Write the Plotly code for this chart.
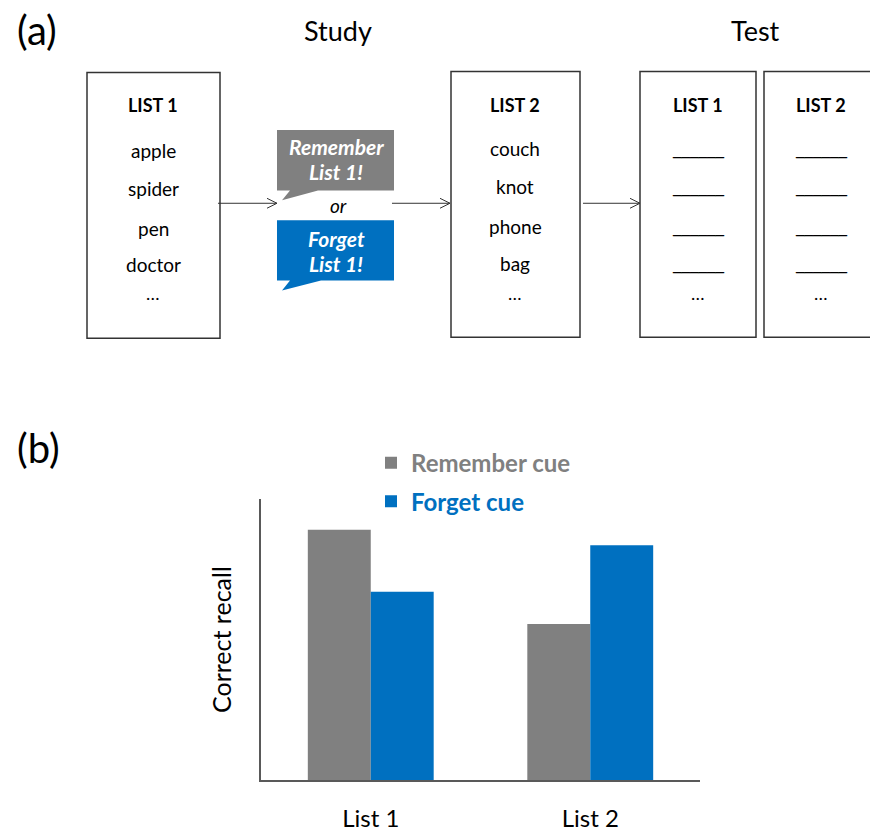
import plotly.graph_objects as go

W, H = 870, 832

# ---------------- data ----------------
categories = ["List 1", "List 2"]
remember_cue = [89.0, 55.5]
forget_cue = [67.0, 83.5]
series_names = ["Remember cue", "Forget cue"]
series_colors = ["#808080", "#0070C0"]
y_title = "Correct recall"

list1_words = ["apple", "spider", "pen", "doctor"]
list2_words = ["couch", "knot", "phone", "bag"]

FONT = "Lato"
BORDER = "#333333"


def px(x):
    return x / W


def py(y):
    return 1 - y / H


fig = go.Figure()
fig.add_trace(go.Bar(
    x=categories, y=remember_cue, name="<b>" + series_names[0] + "</b>",
    marker=dict(color=series_colors[0], line=dict(width=0)), legend="legend",
    showlegend=True,
))
fig.add_trace(go.Bar(
    x=categories, y=forget_cue, name="<b>" + series_names[1] + "</b>",
    marker=dict(color=series_colors[1], line=dict(width=0)), legend="legend2",
    showlegend=True,
))

shapes = []
annotations = []


def text(t, x, y, size, color="black", bold=False, italic=False, family=FONT):
    s = t
    if bold:
        s = "<b>" + s + "</b>"
    if italic:
        s = "<i>" + s + "</i>"
    annotations.append(dict(
        text=s, x=px(x), y=py(y), xref="paper", yref="paper",
        xanchor="center", yanchor="middle", showarrow=False,
        font=dict(family=family, size=size, color=color),
    ))


def rect(x0, y0, x1, y1):
    shapes.append(dict(type="rect", xref="paper", yref="paper",
                       x0=px(x0), x1=px(x1), y0=py(y1), y1=py(y0),
                       line=dict(color=BORDER, width=1.5), fillcolor="rgba(0,0,0,0)"))


def path(cmds, color=None, fill=None, width=1):
    d = ""
    for cmd, x, y in cmds:
        d += f"{cmd} {px(x):.5f} {py(y):.5f} "
    if fill:
        d += "Z"
    shapes.append(dict(type="path", xref="paper", yref="paper", path=d,
                       line=dict(color=color or "rgba(0,0,0,0)", width=width if color else 0),
                       fillcolor=fill or "rgba(0,0,0,0)"))


def arrow(x0, x1, y):
    path([("M", x0, y), ("L", x1, y), ("M", x1 - 10, y - 5), ("L", x1, y), ("L", x1 - 10, y + 5)],
         color=BORDER, width=1)


# panel labels and headings
text("(a)", 37, 30, 40)
text("(b)", 38, 452, 40)
text("Study", 338, 31, 27)
text("Test", 755, 31, 27)

# study boxes
rect(87, 73, 220, 341)
text("LIST 1", 153, 106, 18, bold=True)
for i, w in enumerate(list1_words):
    text(w, 153, [152, 190, 230, 267][i], 19)
text("…", 153, 295, 18)

rect(451, 72, 580, 340)
text("LIST 2", 515, 106, 18, bold=True)
for i, w in enumerate(list2_words):
    text(w, 515, [150, 188, 228, 266][i], 19)
text("…", 515, 295, 18)

# test boxes
rect(640, 72, 756, 340)
text("LIST 1", 698, 106, 18, bold=True)
rect(764, 72, 880, 340)
text("LIST 2", 821, 106, 18, bold=True)
for cx in (698, 821):
    for yy in (150, 188, 228, 266):
        text("______", cx, yy, 17, family="DejaVu Sans")
    text("…", cx, 295, 18)

# cue bubbles
path([("M", 277, 131), ("L", 394, 131), ("L", 394, 192), ("L", 318, 192),
      ("L", 282, 202), ("L", 290, 192), ("L", 277, 192)], fill=series_colors[0])
path([("M", 277, 222), ("L", 394, 222), ("L", 394, 283), ("L", 321, 283),
      ("L", 282, 293), ("L", 290, 283), ("L", 277, 283)], fill=series_colors[1])
text("Remember", 336, 148, 21, color="white", bold=True, italic=True)
text("List 1!", 336, 173, 21, color="white", bold=True, italic=True)
text("or", 338, 207, 19, italic=True)
text("Forget", 336, 241, 21, color="white", bold=True, italic=True)
text("List 1!", 336, 266, 21, color="white", bold=True, italic=True)

# arrows
arrow(218, 277, 205)
arrow(392, 450, 205)
arrow(583, 640, 205)

fig.update_layout(
    width=W, height=H,
    margin=dict(l=0, r=0, t=0, b=0),
    paper_bgcolor="white", plot_bgcolor="white",
    showlegend=True,
    barmode="group", bargap=0.4265, bargroupgap=0,
    font=dict(family=FONT, color="black"),
    xaxis=dict(domain=[px(261), px(700)], range=[-0.5, 1.5], showline=True,
               linecolor="#595959", linewidth=1.5, ticks="", showgrid=False,
               zeroline=False, tickfont=dict(family=FONT, size=24, color="black"),
               ticklabelstandoff=16),
    yaxis=dict(domain=[py(787), py(503)], range=[0, 100], showline=True,
               linecolor="#595959", linewidth=1.5, ticks="", showgrid=False,
               zeroline=False, showticklabels=False,
               title=dict(text=y_title, font=dict(family=FONT, size=25, color="black"),
                          standoff=20)),
    legend=dict(x=px(371), y=py(467), xanchor="left", yanchor="middle",
                font=dict(family=FONT, size=24, color=series_colors[0]),
                bgcolor="rgba(0,0,0,0)", borderwidth=0),
    legend2=dict(x=px(371), y=py(506), xanchor="left", yanchor="middle",
                 font=dict(family=FONT, size=24, color=series_colors[1]),
                 bgcolor="rgba(0,0,0,0)", borderwidth=0),
    shapes=shapes,
    annotations=annotations,
)

fig.write_html("out.html", config={"displayModeBar": False},
               post_script="document.body.style.margin='0';")
